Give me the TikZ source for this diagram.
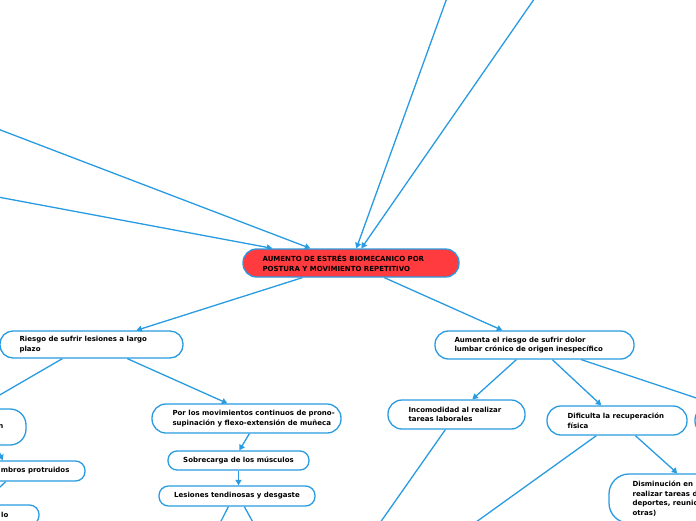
\documentclass[tikz,border=0pt]{standalone}
\usepackage{fontspec}
\setmainfont{DejaVu Sans}
\usetikzlibrary{arrows.meta,calc}
\definecolor{lnblue}{RGB}{40,155,225}
\definecolor{hotred}{RGB}{255,59,64}
\begin{document}
\begin{tikzpicture}[x=1pt,y=-1pt,
  box/.style={draw=lnblue, line width=1.3pt, fill=white, rounded corners=#1, inner sep=0pt},
  box/.default=13pt,
  lbl/.style={font=\fontsize{7}{9.6}\selectfont\bfseries, align=left, inner sep=0pt, text=black},
  con/.style={draw=lnblue, line width=1.3pt},
  arr/.style={con, -{Triangle[length=5.5pt,width=6pt]}}
]
\useasboundingbox (0,0) rectangle (696,520);
\clip (0,0) rectangle (696,520);

% nodes
\node[box=13.5pt, fill=hotred, minimum width=216pt, minimum height=28pt,
  label={[lbl,anchor=west,xshift=20pt]west:{AUMENTO DE ESTRÉS BIOMECANICO POR\\POSTURA Y MOVIMIENTO REPETITIVO}}] (c) at (351,263) {};
\node[box=13pt, minimum width=183pt, minimum height=27pt,
  label={[lbl,anchor=west,xshift=20pt]west:{Riesgo de sufrir lesiones a largo\\plazo}}] (r) at (91.5,344.5) {};
\node[box=13.5pt, minimum width=199pt, minimum height=28pt,
  label={[lbl,anchor=west,xshift=20pt]west:{Aumenta el riesgo de sufrir dolor\\lumbar crónico de origen inespecífico}}] (a) at (534.5,345) {};
\node[box=14pt, minimum width=189pt, minimum height=29pt,
  label={[lbl,anchor=west,xshift=21pt]west:{Por los movimientos continuos de prono-\\supinación y flexo-extensión de muñeca}}] (p) at (246.5,418.5) {};
\node[box=9pt, minimum width=141pt, minimum height=19pt, lbl, align=center] (s) at (238.5,460.5) {Sobrecarga de los músculos};
\node[box=9.5pt, minimum width=156pt, minimum height=20pt, lbl, align=center] (l) at (237,496) {Lesiones tendinosas y desgaste};
\node[box=14pt, minimum width=137pt, minimum height=29pt,
  label={[lbl,anchor=west,xshift=21pt]west:{Incomodidad al realizar\\tareas laborales}}] (i) at (456.5,414.5) {};
\node[box=14pt, minimum width=140pt, minimum height=29pt,
  label={[lbl,anchor=west,xshift=21pt]west:{Dificulta la recuperación\\física}}] (d) at (617,420.5) {};
\node[box=20pt, minimum width=170pt, minimum height=49pt,
  label={[lbl,anchor=west,xshift=24pt]west:{Disminución en\\realizar tareas d\\deportes, reunio\\otras)}}] (m) at (694,498.5) {};
\node[box=14pt, minimum width=140pt, minimum height=29pt] (rp) at (765,420.5) {};
\node[box=16pt, minimum width=150pt, minimum height=36pt,
  label={[lbl,anchor=east,xshift=-23pt]east:{n}}] (l1) at (-49,427) {};
\node[box=9.5pt, minimum width=200pt, minimum height=20pt,
  label={[lbl,anchor=east,xshift=-16pt]east:{mbros protruidos}}] (l2) at (-15,471) {};
\node[box=9.5pt, minimum width=150pt, minimum height=20pt,
  label={[lbl,anchor=east,xshift=-31pt]east:{lo}}] (l3) at (-36,515) {};

% free ends
\coordinate (tl1) at (-10,126);
\coordinate (tl2) at (-10,195.5);
\coordinate (tt1) at (448,-5);
\coordinate (tt2) at (537,-5);
\coordinate (b1) at (214,535);
\coordinate (b2) at (260,535);
\coordinate (b3) at (368,540);
\coordinate (b4) at (451,540);

% connectors
\draw[arr] (tl1) -- ($(c.north west)+(68,0)$);
\draw[arr] (tl2) -- ($(c.north west)+(30,0)$);
\draw[arr] (tt1) -- ($(c.north west)+(114,0)$);
\draw[arr] (tt2) -- ($(c.north west)+(119,0)$);
\draw[arr] ($(c.south west)+(60,0)$) -- ($(r.north west)+(137,0)$);
\draw[arr] ($(c.south west)+(142,0)$) -- ($(a.north west)+(68,0)$);
\draw[arr] ($(r.south west)+(63,0)$) -- ($(l1.north east)+(-50,0)$);
\draw[arr] ($(r.south west)+(128,0)$) -- ($(p.north west)+(76,0)$);
\draw[arr] ($(p.south west)+(98,0)$) -- ($(s.north west)+(72,0)$);
\draw[arr] (s.south) -- (s.south |- l.north);
\draw[con] ($(l.south west)+(70,0)$) -- (b1);
\draw[con] ($(l.south west)+(86,0)$) -- (b2);
\draw[arr] ($(l1.south east)+(-30,0)$) -- ($(l2.north east)+(-83,0)$);
\draw[arr] ($(l2.south east)+(-80,0)$) -- ($(l3.north east)+(-58,0)$);
\draw[arr] ($(a.south west)+(82,0)$) -- ($(i.north west)+(85,0)$);
\draw[arr] ($(a.south west)+(118,0)$) -- ($(d.north west)+(55,0)$);
\draw[arr] ($(a.south west)+(147,0)$) -- ($(rp.north west)+(24,0)$);
\draw[con] ($(i.south west)+(58,0)$) -- (b3);
\draw[con] ($(d.south west)+(50,0)$) -- (b4);
\draw[arr] ($(d.south west)+(89,0)$) -- ($(m.north west)+(69,0)$);
\end{tikzpicture}
\end{document}
